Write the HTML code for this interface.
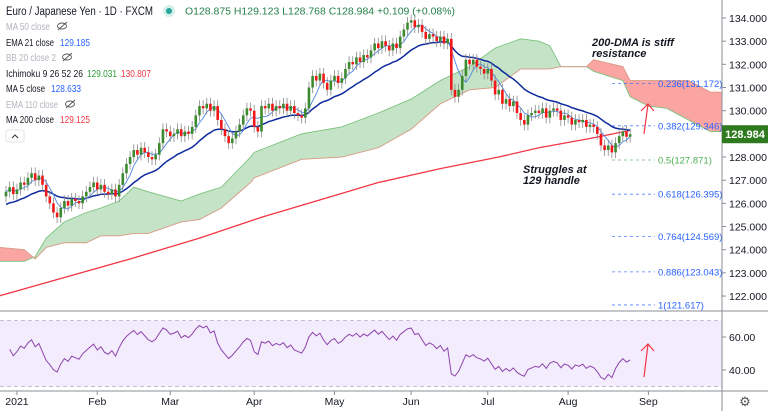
<!DOCTYPE html>
<html><head><meta charset="utf-8"><style>
html,body{margin:0;padding:0;background:#fff;}
svg{display:block;font-family:"Liberation Sans",sans-serif;}
</style></head><body>
<svg id="chart" width="768" height="411" viewBox="0 0 768 411" xmlns="http://www.w3.org/2000/svg">
<rect x="0" y="0" width="768" height="411" fill="#fff"/>
<g id="rsiBg"></g>
<g id="cloud"></g>
<g id="fib"></g>
<g id="lines"></g>
<g id="candles"></g>
<g id="axes"></g>
<g font-size="10.5">
<text x="6" y="15" font-size="11.5" textLength="147" lengthAdjust="spacingAndGlyphs" fill="#131722">Euro / Japanese Yen · 1D · FXCM</text>
<circle cx="169" cy="11" r="6" fill="#d4efec"/>
<circle cx="169" cy="11" r="3" fill="#26a69a"/>
<text x="185" y="14.5" font-size="10" textLength="270" lengthAdjust="spacingAndGlyphs" fill="#26804a">O128.875 H129.123 L128.768 C128.984 +0.109 (+0.08%)</text>
<text x="6" y="30" fill="#b2b5be" textLength="44" lengthAdjust="spacingAndGlyphs">MA 50 close</text>
<text x="6" y="46" fill="#131722" textLength="48" lengthAdjust="spacingAndGlyphs">EMA 21 close</text>
<text x="60" y="46" fill="#2962ff" textLength="30" lengthAdjust="spacingAndGlyphs">129.185</text>
<text x="6" y="61" fill="#b2b5be" textLength="50" lengthAdjust="spacingAndGlyphs">BB 20 close 2</text>
<text x="6" y="77" fill="#131722" textLength="77" lengthAdjust="spacingAndGlyphs">Ichimoku 9 26 52 26</text>
<text x="87" y="77" fill="#2e9e3a" textLength="30" lengthAdjust="spacingAndGlyphs">129.031</text>
<text x="121" y="77" fill="#f23645" textLength="30" lengthAdjust="spacingAndGlyphs">130.807</text>
<text x="6" y="92" fill="#131722" textLength="39" lengthAdjust="spacingAndGlyphs">MA 5 close</text>
<text x="51" y="92" fill="#2962ff" textLength="30" lengthAdjust="spacingAndGlyphs">128.633</text>
<text x="6" y="108" fill="#b2b5be" textLength="52" lengthAdjust="spacingAndGlyphs">EMA 110 close</text>
<text x="6" y="123" fill="#131722" textLength="48" lengthAdjust="spacingAndGlyphs">MA 200 close</text>
<text x="60" y="123" fill="#f23645" textLength="30" lengthAdjust="spacingAndGlyphs">129.125</text>
<g fill="none" stroke="#555" stroke-width="0.9">
<ellipse cx="62" cy="26" rx="4.5" ry="3"/><line x1="58" y1="30" x2="67" y2="22"/>
<ellipse cx="67" cy="57" rx="4.5" ry="3"/><line x1="63" y1="61" x2="72" y2="53"/>
<ellipse cx="70" cy="104" rx="4.5" ry="3"/><line x1="66" y1="108" x2="75" y2="100"/>
</g>
<rect x="6" y="130" width="18" height="12" rx="2" fill="#fff" stroke="#e0e3eb"/>
<path d="M12 138 L15 135 L18 138" fill="none" stroke="#333" stroke-width="1"/>
</g>
<g font-style="italic" font-weight="bold" font-size="11" fill="#131722">
<text x="592" y="46">200-DMA is stiff</text>
<text x="592" y="57">resistance</text>
<text x="523" y="173">Struggles at</text>
<text x="523" y="184">129 handle</text>
<g stroke="#f23645" stroke-width="1.2" fill="none">
<line x1="644" y1="134" x2="648" y2="104"/>
<path d="M641 111 L648 104 L654 111"/>
<line x1="644" y1="377" x2="648" y2="344"/>
<path d="M641 351 L648 344 L654 351"/>
</g>
</g>
</svg>
<script>
// ---- data ----
const closes = [126.5,126.7,126.4,126.6,126.9,126.8,127.1,127.3,127.0,127.2,
126.8,126.3,126.0,125.6,125.4,125.8,126.1,125.9,126.2,126.1,
126.0,126.3,126.5,126.7,126.9,126.6,126.8,126.5,126.4,126.6,
126.3,126.8,127.3,127.7,128.0,128.3,128.1,128.4,128.2,128.0,
127.9,128.1,128.6,129.2,129.1,128.9,129.0,129.2,128.9,129.1,
129.0,129.3,129.8,130.2,130.1,130.3,130.0,130.2,129.6,129.2,
128.9,128.6,128.8,129.1,129.4,129.8,130.1,130.0,129.3,129.1,
130.2,130.1,130.3,130.0,130.2,130.1,130.3,130.0,130.2,129.9,
129.8,129.7,130.1,131.0,131.5,131.3,131.6,131.2,130.9,131.3,
131.5,131.2,131.4,131.8,132.1,132.0,132.3,132.1,132.4,132.3,
132.6,132.9,132.7,133.0,132.8,132.6,132.9,132.7,133.2,133.5,
133.8,133.9,133.6,133.7,133.4,133.1,133.3,133.2,133.0,133.2,
132.9,133.1,130.9,130.6,130.9,131.5,132.2,132.0,132.2,131.9,
131.8,131.6,131.8,131.3,130.7,130.9,130.3,130.5,130.2,130.4,
129.9,129.6,129.4,129.8,129.9,130.0,129.9,130.1,129.7,130.0,
130.1,130.0,129.6,129.8,129.7,129.4,129.6,129.5,129.6,129.3,
129.4,129.3,129.0,128.5,128.3,128.5,128.2,128.6,128.9,129.1,
128.875,128.984];
const firstOpen = 126.3;
const ma200Idx = [-2,16,34,53,70,85,102,119,135,146,160,171];
const ma200Vals = [122.0,122.8,123.6,124.5,125.4,126.1,126.9,127.5,128.0,128.4,128.8,129.15];
const cloudIdx = [-2,5,8,11,16,22,26,31,35,39,48,53,59,67,68,81,92,102,111,119,127,134,141,146,149,152,159,161,169,171,176,181,187,193,196];
const spanA = [123.5,123.5,123.7,124.5,125.2,125.6,125.8,126.1,126.7,126.5,126.1,126.4,126.7,128.0,128.2,129.0,129.3,129.9,130.5,131.3,131.9,132.7,133.1,133.0,132.8,131.9,131.9,131.7,131.3,130.6,130.2,130.1,129.6,129.1,129.1];
const spanB = [124.1,124.0,123.6,124.1,124.3,124.3,124.6,124.6,124.7,124.7,125.2,125.3,125.8,126.9,127.1,127.9,128.0,128.4,129.2,130.3,130.9,131.0,131.8,131.8,131.8,131.9,131.9,132.2,131.9,131.3,131.3,131.3,131.3,130.8,130.8];
const fibRatios = ["0.236","0.382","0.5","0.618","0.764","0.886","1"];
const fibPrices = [131.172,129.346,127.871,126.395,124.569,123.043,121.617];
const priceTicks = [134,133,132,131,130,129,128,127,126,125,124,123,122];
const rsiTicks = [60,40];
const monthLabels = ["2021","Feb","Mar","Apr","May","Jun","Jul","Aug","Sep"];
const monthIdx = [3,25,45,68,90,111,132,154,176];
const lastPrice = 128.984;

// ---- scales ----
const X = i => 6 + i*3.65;
const Y = p => 18 + (134 - p)*23.17;
const RY = v => 370 - (v-40)*1.65;
const NS = "http://www.w3.org/2000/svg";
function mk(tag, parent, attrs){const e=document.createElementNS(NS,tag);for(const k in attrs)e.setAttribute(k,attrs[k]);parent.appendChild(e);return e;}
const g = id => document.getElementById(id);

// RSI background
const rb = g('rsiBg');
const band = mk('rect', rb, {x:0,y:RY(70),width:722,height:RY(30)-RY(70),fill:'#f3ecfc'});


[70,30].forEach(v=>{const l=mk('line',rb,{x1:0,x2:722,y1:RY(v),y2:RY(v),stroke:'#b8a8cc','stroke-dasharray':'4 3','stroke-width':0.8});

});

// Cloud
const cg = g('cloud');
for(let k=0;k<cloudIdx.length-1;k++){
  const a0=spanA[k],a1=spanA[k+1],b0=spanB[k],b1=spanB[k+1];
  const green = (a0+a1) >= (b0+b1);
  const pts=[[X(cloudIdx[k]),Y(a0)],[X(cloudIdx[k+1]),Y(a1)],[X(cloudIdx[k+1]),Y(b1)],[X(cloudIdx[k]),Y(b0)]];
  const p=mk('polygon',cg,{points:pts.map(q=>q.join(',')).join(' '),fill:green?'#c5e3c6':'#fba5a2',stroke:green?'#c5e3c6':'#fba5a2','stroke-width':0.5});
  
  
}
const la=mk('polyline',cg,{points:cloudIdx.map((i,k)=>X(i)+','+Y(spanA[k])).join(' '),fill:'none',stroke:'#7cc37f','stroke-width':0.9});


const lb=mk('polyline',cg,{points:cloudIdx.map((i,k)=>X(i)+','+Y(spanB[k])).join(' '),fill:'none',stroke:'#d99a84','stroke-width':0.9});



// Fib
const fg=g('fib');
fibPrices.forEach((p,k)=>{
  const col = fibRatios[k]==="0.5"?'#4caf50':'#2962ff';
  const l=mk('line',fg,{x1:612,x2:655,y1:Y(p),y2:Y(p),stroke:col,'stroke-dasharray':'3 3','stroke-width':0.8,opacity:0.8});
  
  
  const t=mk('text',fg,{x:658,y:Y(p)+3.5,'font-size':9.5,fill:col});
  t.textContent=fibRatios[k]+'('+p.toFixed(3)+')';
  
  
});

// Indicators
const lg=g('lines');
const ma200=mk('polyline',lg,{points:ma200Idx.map((i,k)=>X(i)+','+Y(ma200Vals[k])).join(' '),fill:'none',stroke:'#f23645','stroke-width':1.3});


let ema=125.9; const emaPts=[]; const a=2/22;
closes.forEach((c,i)=>{ema=ema+a*(c-ema);emaPts.push(X(i)+','+Y(ema));});
const emaL=mk('polyline',lg,{points:emaPts.join(' '),fill:'none',stroke:'#0d2a9c','stroke-width':1.5});


const maPts=closes.map((c,i)=>{const s=closes.slice(Math.max(0,i-4),i+1);return X(i)+','+Y(s.reduce((x,y)=>x+y,0)/s.length);});
const maL=mk('polyline',lg,{points:maPts.join(' '),fill:'none',stroke:'#4f86e0','stroke-width':0.9});



// Candles
const cd=g('candles');
closes.forEach((c,i)=>{
  const o = i===0?firstOpen:closes[i-1];
  const hi=Math.max(o,c)+0.25, lo=Math.min(o,c)-0.25;
  const up=c>=o; const x=X(i);
  const w=mk('line',cd,{x1:x,x2:x,y1:Y(hi),y2:Y(lo),stroke:'#888','stroke-width':0.8});
  
  
  const b=mk('rect',cd,{x:x-1.3,y:Y(Math.max(o,c)),width:2.6,height:Math.max(1,Math.abs(Y(o)-Y(c))),fill:up?'#3b8a2e':'#f01818'});
  
  
});

// RSI (computed from closes, smoothed)
let ag=0.1,al=0.1; const rsiPts=[];
closes.forEach((c,i)=>{ if(i===0) return; const d=c-closes[i-1];
  ag=(ag*13+Math.max(d,0))/14; al=(al*13+Math.max(-d,0))/14;
  let r=100-100/(1+ag/al); r=50+(r-50)*0.7;
  rsiPts.push(X(i)+','+RY(Math.max(30,Math.min(70,r))));});
const rsiL=mk('polyline',rb,{points:rsiPts.join(' '),fill:'none',stroke:'#8e44ad','stroke-width':1});



// Axes
const ax=g('axes');
[[722,0,722,411],[0,311,768,311],[0,391,768,391]].forEach(s=>{const l=mk('line',ax,{x1:s[0],y1:s[1],x2:s[2],y2:s[3],stroke:'#8a8d96','stroke-width':1});

});
priceTicks.forEach(p=>{
  mk('line',ax,{x1:722,x2:726,y1:Y(p),y2:Y(p),stroke:'#8a8d96'});
  const t=mk('text',ax,{x:729,y:Y(p)+4,'font-size':10.5,fill:'#131722'});
  t.textContent=p.toFixed(3);
  
  
});
rsiTicks.forEach(v=>{
  mk('line',ax,{x1:722,x2:726,y1:RY(v),y2:RY(v),stroke:'#8a8d96'});
  const t=mk('text',ax,{x:729,y:RY(v)+4,'font-size':10.5,fill:'#131722'});
  t.textContent=v.toFixed(2);
  
  
});
monthLabels.forEach((m,k)=>{
  const x=X(monthIdx[k]);
  mk('line',ax,{x1:x,x2:x,y1:391,y2:395,stroke:'#8a8d96'});
  const t=mk('text',ax,{x:x,y:405,'font-size':10.5,fill:'#131722','text-anchor':'middle'});
  t.textContent=m;
  
  
});
const pb=mk('rect',ax,{x:722,y:Y(lastPrice)-9,width:46,height:18,fill:'#2f7a1e'});


const pt=mk('text',ax,{x:745,y:Y(lastPrice)+4,'font-size':11,fill:'#fff','text-anchor':'middle','font-weight':'bold'});
pt.textContent=lastPrice.toFixed(3);


const gear=mk('text',ax,{x:745,y:406,'font-size':13,fill:'#555','text-anchor':'middle'});
gear.textContent='⚙';


</script>
</body></html>
